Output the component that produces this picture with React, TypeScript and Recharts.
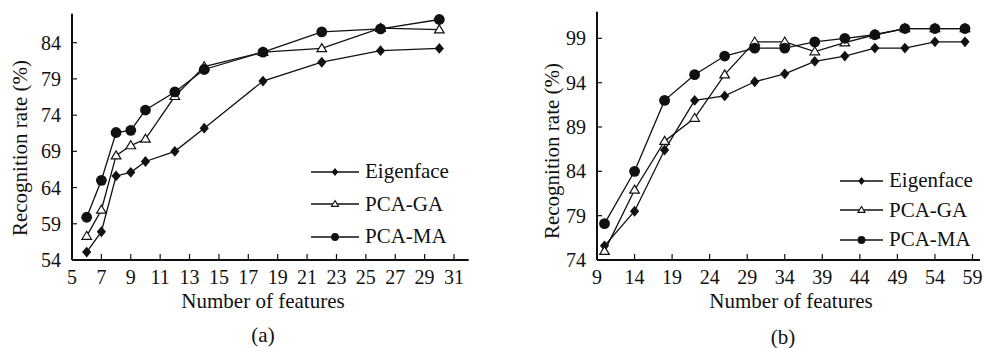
import { Legend, Line, LineChart, XAxis, YAxis } from 'recharts';

// (a) recognition rate vs number of features, small set
const leftFeatures = [6, 7, 8, 9, 10, 12, 14, 18, 22, 26, 30];
const leftEigenface = [55.1, 57.9, 65.6, 66.1, 67.6, 69.0, 72.2, 78.7, 81.3, 82.9, 83.2];
const leftPcaGa = [57.3, 60.9, 68.4, 69.8, 70.7, 76.6, 80.7, 82.7, 83.2, 86.0, 85.8];
const leftPcaMa = [59.9, 65.0, 71.6, 71.9, 74.7, 77.2, 80.3, 82.7, 85.5, 85.9, 87.2];
const leftXTicks = [5, 7, 9, 11, 13, 15, 17, 19, 21, 23, 25, 27, 29, 31];
const leftYTicks = [54, 59, 64, 69, 74, 79, 84];

// (b) larger set
const rightFeatures = [10, 14, 18, 22, 26, 30, 34, 38, 42, 46, 50, 54, 58];
const rightEigenface = [75.6, 79.5, 86.4, 92.0, 92.5, 94.1, 95.0, 96.4, 97.0, 97.9, 97.9, 98.6, 98.6];
const rightPcaGa = [75.0, 81.9, 87.4, 90.0, 94.9, 98.6, 98.6, 97.5, 98.5, 99.4, 100.1, 100.1, 100.1];
const rightPcaMa = [78.1, 84.0, 92.0, 94.9, 97.0, 97.9, 97.9, 98.6, 99.0, 99.4, 100.1, 100.1, 100.1];
const rightXTicks = [9, 14, 19, 24, 29, 34, 39, 44, 49, 54, 59];
const rightYTicks = [74, 79, 84, 89, 94, 99];

const seriesNames = ['Eigenface', 'PCA-GA', 'PCA-MA'];
const seriesKeys = ['eigen', 'ga', 'ma'];

const FONT = 'Liberation Serif, Tinos, Times New Roman, Times, DejaVu Serif, serif';
const INK = '#111';

type Marker = 'diamond' | 'triangle' | 'circle';
const markers: Marker[] = ['diamond', 'triangle', 'circle'];

function MarkerShape({ kind, cx, cy, s = 1 }: { kind: Marker; cx: number; cy: number; s?: number }) {
  if (kind === 'diamond') {
    const hw = 4.6 * s;
    const hh = 5.4 * s;
    return (
      <polygon
        points={`${cx},${cy - hh} ${cx + hw},${cy} ${cx},${cy + hh} ${cx - hw},${cy}`}
        fill={INK}
      />
    );
  }
  if (kind === 'triangle') {
    const hw = 4.8 * s;
    const h = 8 * s;
    return (
      <polygon
        points={`${cx},${cy - h * 0.6} ${cx + hw},${cy + h * 0.4} ${cx - hw},${cy + h * 0.4}`}
        fill="#fff"
        stroke={INK}
        strokeWidth={1.2}
      />
    );
  }
  return <circle cx={cx} cy={cy} r={5.4 * s} fill={INK} />;
}

function buildRows(x: number[], a: number[], b: number[], c: number[]) {
  return x.map((v, i) => ({ x: v, eigen: a[i], ga: b[i], ma: c[i] }));
}

function LegendBox({ lineLen, gap, rowH }: { lineLen: number; gap: number; rowH: number }) {
  return (
    <div style={{ fontFamily: FONT, fontSize: 21, color: INK }}>
      {seriesNames.map((name, i) => (
        <div key={name} style={{ display: 'flex', alignItems: 'center', height: rowH }}>
          <svg width={lineLen} height={14} style={{ marginRight: gap, overflow: 'visible' }}>
            <line x1={0} y1={7} x2={lineLen} y2={7} stroke={INK} strokeWidth={1.3} />
            <MarkerShape kind={markers[i]} cx={lineLen / 2} cy={7} s={0.72} />
          </svg>
          <span style={{ lineHeight: 1 }}>{name}</span>
        </div>
      ))}
    </div>
  );
}

interface PanelProps {
  rows: { x: number; eigen: number; ga: number; ma: number }[];
  width: number;
  margin: { top: number; right: number; left: number; bottom: number };
  xDomain: [number, number];
  yDomain: [number, number];
  xTicks: number[];
  yTicks: number[];
  legendPos: { left: number; top: number };
  legendLine: number;
  legendGap: number;
  legendRow: number;
}

function Panel(p: PanelProps) {
  const tick = { fill: INK, fontSize: 20, fontFamily: FONT };
  return (
    <LineChart width={p.width} height={348} data={p.rows} margin={p.margin}>
      <XAxis
        dataKey="x"
        type="number"
        domain={p.xDomain}
        ticks={p.xTicks}
        interval={0}
        allowDataOverflow
        height={40}
        tick={tick}
        tickSize={-6}
        tickMargin={16}
        tickLine={{ stroke: INK, strokeWidth: 1.2 }}
        axisLine={{ stroke: INK, strokeWidth: 2 }}
      />
      <XAxis
        xAxisId="top"
        orientation="top"
        dataKey="x"
        type="number"
        domain={p.xDomain}
        height={0}
        tick={false}
        tickLine={false}
        axisLine={{ stroke: INK, strokeWidth: 1.2 }}
      />
      <YAxis
        type="number"
        domain={p.yDomain}
        ticks={p.yTicks}
        interval={0}
        allowDataOverflow
        width={60}
        tick={tick}
        tickSize={-5}
        tickMargin={16}
        tickLine={{ stroke: INK, strokeWidth: 1.2 }}
        axisLine={{ stroke: INK, strokeWidth: 2 }}
      />
      <YAxis
        yAxisId="right"
        orientation="right"
        domain={p.yDomain}
        width={0}
        tick={false}
        tickLine={false}
        axisLine={{ stroke: INK, strokeWidth: 1.4 }}
      />
      <Legend
        layout="vertical"
        align="center"
        verticalAlign="middle"
        wrapperStyle={{ left: p.legendPos.left, top: p.legendPos.top, width: 170, bottom: 'auto' }}
        content={() => <LegendBox lineLen={p.legendLine} gap={p.legendGap} rowH={p.legendRow} />}
      />
      {seriesKeys.map((k, i) => (
        <Line
          key={k}
          dataKey={k}
          name={seriesNames[i]}
          stroke={INK}
          strokeWidth={1.3}
          isAnimationActive={false}
          activeDot={false}
          dot={(d: any) => (
            <MarkerShape key={`${k}-${d.index}`} kind={markers[i]} cx={d.cx} cy={d.cy} />
          )}
        />
      ))}
    </LineChart>
  );
}

const textBase: React.CSSProperties = {
  position: 'absolute',
  fontFamily: FONT,
  fontSize: 21,
  color: INK,
  whiteSpace: 'nowrap',
  lineHeight: 1,
};

function YTitle({ cx, cy }: { cx: number; cy: number }) {
  return (
    <div style={{ ...textBase, left: cx, top: cy, transform: 'translate(-50%, -50%) rotate(-90deg)' }}>
      Recognition rate (%)
    </div>
  );
}

function CenterText({ cx, cy, children }: { cx: number; cy: number; children: React.ReactNode }) {
  return (
    <div style={{ ...textBase, left: cx, top: cy, transform: 'translate(-50%, -50%)' }}>{children}</div>
  );
}

export default function App() {
  const leftRows = buildRows(leftFeatures, leftEigenface, leftPcaGa, leftPcaMa);
  const rightRows = buildRows(rightFeatures, rightEigenface, rightPcaGa, rightPcaMa);

  return (
    <div style={{ position: 'relative', width: 984, height: 348, background: '#fff', overflow: 'hidden' }}>
      <style>{'body{margin:0}'}</style>
      <div style={{ position: 'absolute', left: 0, top: 0 }}>
        <Panel
          rows={leftRows}
          width={490}
          margin={{ top: 13.7, right: 21.3, left: 12, bottom: 48 }}
          xDomain={[5, 32]}
          yDomain={[54, 88]}
          xTicks={leftXTicks}
          yTicks={leftYTicks}
          legendPos={{ left: 311, top: 155.5 }}
          legendLine={48}
          legendGap={6}
          legendRow={32.5}
        />
      </div>
      <div style={{ position: 'absolute', left: 500, top: 0 }}>
        <Panel
          rows={rightRows}
          width={484}
          margin={{ top: 11.7, right: 4, left: 37, bottom: 48 }}
          xDomain={[9, 60]}
          yDomain={[74, 102]}
          xTicks={rightXTicks}
          yTicks={rightYTicks}
          legendPos={{ left: 340, top: 166 }}
          legendLine={43}
          legendGap={6}
          legendRow={29.5}
        />
      </div>
      <YTitle cx={20} cy={148} />
      <YTitle cx={552} cy={151} />
      <CenterText cx={263} cy={301}>Number of features</CenterText>
      <CenterText cx={791} cy={301}>Number of features</CenterText>
      <CenterText cx={263} cy={335}>(a)</CenterText>
      <CenterText cx={783} cy={337}>(b)</CenterText>
    </div>
  );
}
